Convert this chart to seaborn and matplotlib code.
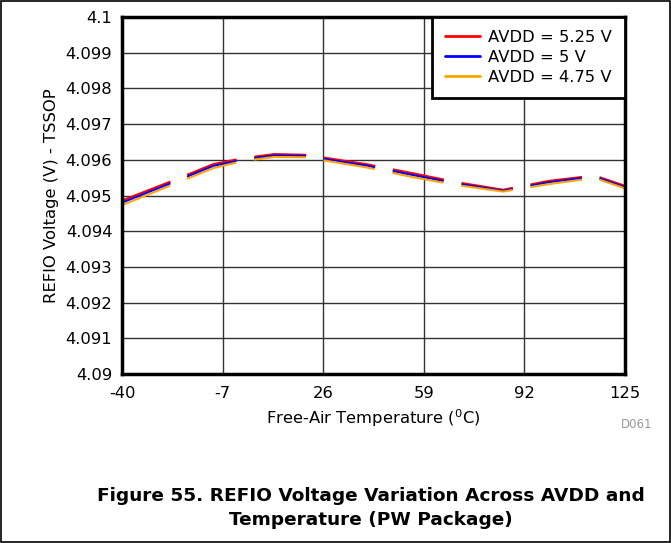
import matplotlib
matplotlib.use("Agg")
import matplotlib.pyplot as plt
import matplotlib.patches as mpatches
import numpy as np
import pandas as pd
import seaborn as sns

# ── data ─────────────────────────────────────────────────────────────────────
TEMPS = [-40, -25, -10, 0, 10, 20, 25, 40, 55, 70, 85, 100, 115, 125]
V_525 = [4.09486, 4.09536, 4.09588, 4.09605, 4.09616, 4.09614, 4.09608,
         4.09588, 4.09563, 4.09537, 4.09516, 4.09541, 4.09556, 4.09527]
V_500 = [4.09480, 4.09531, 4.09583, 4.09601, 4.09612, 4.09611, 4.09604,
         4.09584, 4.09558, 4.09533, 4.09513, 4.09537, 4.09553, 4.09523]
V_475 = [4.09473, 4.09525, 4.09577, 4.09597, 4.09608, 4.09607, 4.09600,
         4.09579, 4.09552, 4.09529, 4.09511, 4.09532, 4.09549, 4.09520]
SERIES = ["AVDD = 5.25 V", "AVDD = 5 V", "AVDD = 4.75 V"]
COLORS = ["#FF0000", "#0000FF", "#FFA500"]

XTICKS = [-40, -7, 26, 59, 92, 125]
YTICKS = [4.09, 4.091, 4.092, 4.093, 4.094, 4.095, 4.096, 4.097, 4.098, 4.099, 4.1]

df = pd.concat([
    pd.DataFrame({"temp": TEMPS, "volt": v, "supply": name})
    for v, name in zip([V_525, V_500, V_475], SERIES)
])

sns.set_theme(style="white")
plt.rcParams["font.family"] = ["DejaVu Sans"]
plt.rcParams["mathtext.default"] = "regular"
plt.rcParams["text.color"] = "black"
plt.rcParams["axes.labelcolor"] = "black"

FS = 11.8

fig = plt.figure(figsize=(6.71, 5.43), dpi=100)
ax = fig.add_axes([122 / 671, 1 - 374 / 543, 503 / 671, 357 / 543])

sns.lineplot(
    data=df, x="temp", y="volt", hue="supply", style="supply",
    hue_order=SERIES, style_order=SERIES,
    palette=dict(zip(SERIES, COLORS)),
    dashes={s: (25, 8.6) for s in SERIES},
    linewidth=1.5, ax=ax, legend=False, sort=False,
)

ax.set_xlim(-40, 125)
ax.set_ylim(4.09, 4.1)
ax.set_xticks(XTICKS)
ax.set_xticklabels([str(t) for t in XTICKS])
ax.set_yticks(YTICKS)
ax.set_yticklabels([f"{t:g}" for t in YTICKS])
ax.tick_params(axis="both", length=0, labelsize=FS, colors="black")
ax.tick_params(axis="x", pad=9)
ax.tick_params(axis="y", pad=7)
ax.grid(True, color="#333333", linewidth=1.0)
ax.set_axisbelow(True)
for sp in ax.spines.values():
    sp.set_color("black")
    sp.set_linewidth(2.5)

ax.set_xlabel("Free-Air Temperature ($^{0}$C)", fontsize=FS, labelpad=4)
ax.set_ylabel("REFIO Voltage (V) - TSSOP", fontsize=FS, labelpad=4.5)

handles = [plt.Line2D([], [], color=c, linewidth=2) for c in COLORS]
leg = ax.legend(
    handles, SERIES, loc="upper right", fontsize=FS, frameon=True,
    fancybox=False, framealpha=1, edgecolor="black", borderaxespad=0,
    borderpad=0.8, labelspacing=0.3, handlelength=2.1, handletextpad=0.5,
)
leg.get_frame().set_linewidth(2)

fig.text(652 / 671, 1 - 424 / 543, "D061", fontsize=8.5, color="#999999",
         ha="right", va="center")
fig.text(371 / 671, 1 - 508 / 543,
         "Figure 55. REFIO Voltage Variation Across AVDD and\nTemperature (PW Package)",
         fontsize=13.3, fontweight="bold", ha="center", va="center",
         linespacing=1.4)

fig.patches.append(mpatches.Rectangle(
    (0.001, 0.001), 0.998, 0.998, transform=fig.transFigure,
    fill=False, edgecolor="black", linewidth=1.2))

fig.savefig("out.png", dpi=100)
